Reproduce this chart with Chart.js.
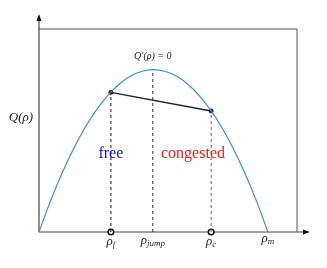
<!DOCTYPE html>
<html>
<head>
<meta charset="utf-8">
<script src="https://cdn.jsdelivr.net/npm/chart.js@4.4.1/dist/chart.umd.min.js"></script>
<style>
  html, body { margin: 0; padding: 0; background: #fff; }
  #wrap { width: 327px; height: 268px; }
</style>
</head>
<body>
<div id="wrap"><canvas id="flowChart"></canvas></div>
<script>
// Fundamental diagram (density normalised so rho_m = 1)
const rhoVals  = [0, 0.05, 0.1, 0.15, 0.2, 0.25, 0.3, 0.35, 0.4, 0.45, 0.5, 0.55, 0.6, 0.65, 0.7, 0.75, 0.8, 0.85, 0.9, 0.95, 1.0];
const flowVals = [0, 0.19, 0.36, 0.51, 0.64, 0.75, 0.84, 0.91, 0.96, 0.99, 1.0, 0.99, 0.96, 0.91, 0.84, 0.75, 0.64, 0.51, 0.36, 0.19, 0];

// Marked densities and their flows
const rhoF = 0.314, qF = 0.86;
const rhoC = 0.752, qC = 0.745;
const rhoJump = 0.497, qJump = 1.0;
const rhoM = 1.0;

const xMax = 1.127;
const yMax = 1.25;

const serif = '"Liberation Serif", "DejaVu Serif", serif';

// helper: rho with subscript
function drawRho(ctx, sub, x, y) {
    ctx.font = 'italic 13px ' + serif;
    const w1 = ctx.measureText('ρ').width;
    ctx.font = 'italic 9px ' + serif;
    const w2 = ctx.measureText(sub).width;
    const start = x - (w1 + w2) / 2;
    ctx.textAlign = 'left';
    ctx.font = 'italic 13px ' + serif;
    ctx.fillText('ρ', start, y);
    ctx.font = 'italic 9px ' + serif;
    ctx.fillText(sub, start + w1, y + 3);
}

const decorPlugin = {
    id: 'decor',
    beforeDatasetsDraw(chart) {
        const { ctx, chartArea: a } = chart;
        ctx.save();
        // top and right frame
        ctx.strokeStyle = '#555';
        ctx.lineWidth = 1;
        ctx.beginPath();
        ctx.moveTo(a.left, a.top);
        ctx.lineTo(a.right, a.top);
        ctx.lineTo(a.right, a.bottom);
        ctx.stroke();
        // axes
        ctx.strokeStyle = '#444';
        ctx.lineWidth = 1.2;
        ctx.beginPath();
        ctx.moveTo(a.left, a.bottom);
        ctx.lineTo(a.left, 18);
        ctx.moveTo(a.left, a.bottom);
        ctx.lineTo(a.right + 10, a.bottom);
        ctx.stroke();
        // arrow heads
        ctx.fillStyle = '#111';
        ctx.beginPath();
        ctx.moveTo(a.left, 14);
        ctx.lineTo(a.left - 2.5, 21);
        ctx.lineTo(a.left + 2.5, 21);
        ctx.closePath();
        ctx.fill();
        ctx.beginPath();
        ctx.moveTo(a.right + 13, a.bottom);
        ctx.lineTo(a.right + 6, a.bottom - 2.5);
        ctx.lineTo(a.right + 6, a.bottom + 2.5);
        ctx.closePath();
        ctx.fill();
        ctx.restore();
    },
    afterDraw(chart) {
        const { ctx } = chart;
        const xs = chart.scales.x, ys = chart.scales.y;
        ctx.save();
        ctx.textBaseline = 'middle';
        ctx.fillStyle = '#222';

        const base = ys.getPixelForValue(0);
        drawRho(ctx, 'f', xs.getPixelForValue(rhoF), base + 10);
        drawRho(ctx, 'jump', xs.getPixelForValue(rhoJump), base + 9);
        drawRho(ctx, 'c', xs.getPixelForValue(rhoC), base + 10);
        drawRho(ctx, 'm', xs.getPixelForValue(rhoM), base + 7);

        ctx.textAlign = 'center';
        ctx.font = 'italic 13px ' + serif;
        ctx.fillText('Q(ρ)', 21, 118);

        ctx.font = 'italic 10px ' + serif;
        ctx.fillText("Q′(ρ) = 0", xs.getPixelForValue(rhoJump), ys.getPixelForValue(qJump) - 13);

        ctx.font = '16px ' + serif;
        ctx.fillStyle = '#1010ee';
        ctx.fillText('free', xs.getPixelForValue(rhoF), 154);
        ctx.fillStyle = '#ee1c1c';
        ctx.fillText('congested', 193, 154);
        ctx.restore();
    }
};

function vline(x, top, color) {
    return {
        data: [{ x: x, y: 0 }, { x: x, y: top }],
        borderColor: color,
        borderWidth: 1,
        borderDash: [3, 3],
        pointRadius: 0,
        tension: 0
    };
}

const ctx = document.getElementById('flowChart').getContext('2d');
new Chart(ctx, {
    type: 'line',
    data: {
        datasets: [
            vline(rhoF, qF, '#111'),
            vline(rhoJump, qJump, '#333'),
            vline(rhoC, qC, '#666'),
            {
                data: rhoVals.map((r, i) => ({ x: r, y: flowVals[i] })),
                borderColor: '#3a8fd4',
                borderWidth: 1.2,
                pointRadius: 0,
                tension: 0.4
            },
            {
                data: [{ x: rhoF, y: qF }, { x: rhoC, y: qC }],
                borderColor: '#222',
                borderWidth: 1.4,
                pointRadius: 2,
                pointBackgroundColor: '#333',
                pointBorderColor: '#111',
                pointBorderWidth: 1,
                tension: 0
            },
            {
                data: [{ x: rhoF, y: 0 }, { x: rhoC, y: 0 }],
                showLine: false,
                pointRadius: 2.8,
                pointBackgroundColor: '#fff',
                pointBorderColor: '#111',
                pointBorderWidth: 1.5,
                clip: false
            }
        ]
    },
    options: {
        responsive: true,
        maintainAspectRatio: false,
        animation: false,
        events: [],
        layout: {
            padding: { left: 39, right: 30, top: 29, bottom: 36 }
        },
        plugins: {
            legend: { display: false },
            tooltip: { enabled: false }
        },
        scales: {
            x: { type: 'linear', min: 0, max: xMax, display: false },
            y: { type: 'linear', min: 0, max: yMax, display: false }
        }
    },
    plugins: [decorPlugin]
});
</script>
</body>
</html>
